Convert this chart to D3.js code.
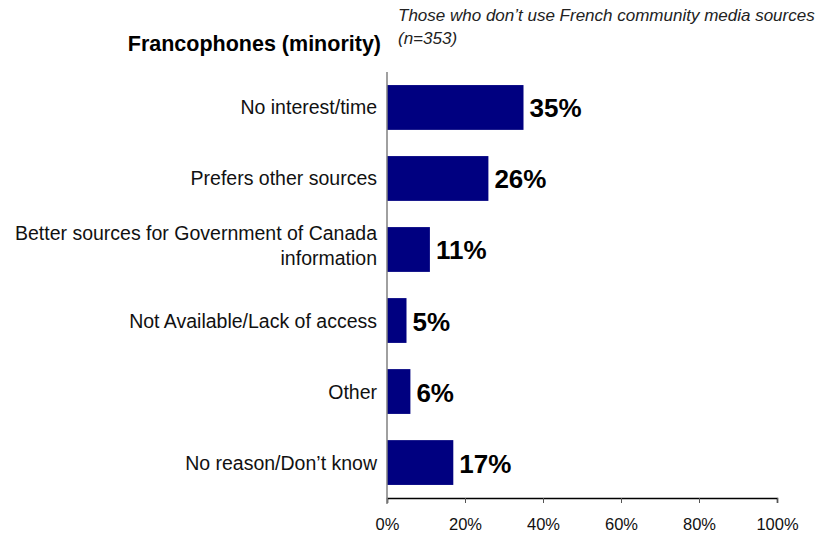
<!DOCTYPE html>
<html>
<head>
<meta charset="utf-8">
<script src="https://cdn.jsdelivr.net/npm/d3@7"></script>
<style>
  body { margin: 0; background: #fff; }
  text { font-family: Arial, "Liberation Sans", sans-serif; }
</style>
</head>
<body>
<div id="chart"></div>
<script>
// data
let categories = [
  "No interest/time",
  "Prefers other sources",
  "Better sources for Government of Canada\ninformation",
  "Not Available/Lack of access",
  "Other",
  "No reason/Don\u2019t know"
];
let values = [35, 26, 11, 5, 6, 17];
let tickValues = [0, 20, 40, 60, 80, 100];

let width = 828;
let height = 535;

let svg = d3.select("#chart")
            .append("svg")
            .attr("width", width)
            .attr("height", height);

let xScale = d3.scaleLinear()
               .domain([0, 100])
               .range([387, 777]);

let yScale = d3.scaleBand()
               .domain(categories)
               .range([72, 498])
               .paddingInner(0.369)
               .paddingOuter(0.184);

// titles
svg.append("text")
   .attr("x", 381)
   .attr("y", 51)
   .attr("text-anchor", "end")
   .style("font-size", "21.5px")
   .style("font-weight", "bold")
   .text("Francophones (minority)");

svg.append("text")
   .attr("x", 398)
   .attr("y", 21)
   .style("font-size", "17px")
   .style("font-style", "italic")
   .style("fill", "#222")
   .text("Those who don\u2019t use French community media sources");

svg.append("text")
   .attr("x", 398)
   .attr("y", 44)
   .style("font-size", "17px")
   .style("font-style", "italic")
   .style("fill", "#222")
   .text("(n=353)");

// x axis
let xAxis = d3.axisBottom(xScale)
              .tickValues(tickValues)
              .tickSize(5)
              .tickPadding(15)
              .tickFormat(d => d + "%");

let gx = svg.append("g")
            .attr("transform", `translate(0, ${498})`)
            .call(xAxis);
gx.select(".domain").attr("stroke", "#000").attr("stroke-width", 1.5);
gx.selectAll(".tick line").attr("stroke", "#555");
gx.selectAll(".tick text")
  .style("font-size", "16.5px")
  .style("font-family", "Arial, 'Liberation Sans', sans-serif")
  .attr("fill", "#111");

// bars
svg.selectAll("rect.bar")
   .data(values)
   .enter()
   .append("rect")
   .attr("class", "bar")
   .attr("x", xScale(0))
   .attr("y", (d, i) => yScale(categories[i]))
   .attr("width", d => xScale(d) - xScale(0))
   .attr("height", yScale.bandwidth())
   .attr("fill", "#000080");

// y axis line (grey)
svg.append("line")
   .attr("x1", xScale(0))
   .attr("x2", xScale(0))
   .attr("y1", 72)
   .attr("y2", 504)
   .attr("stroke", "#808080")
   .attr("stroke-width", 1.5);

// value labels
svg.selectAll("text.value")
   .data(values)
   .enter()
   .append("text")
   .attr("class", "value")
   .attr("x", d => xScale(d) + 6)
   .attr("y", (d, i) => yScale(categories[i]) + yScale.bandwidth() / 2 + 10)
   .style("font-size", "26px")
   .style("font-weight", "bold")
   .text(d => d + "%");

// category labels
svg.selectAll("text.cat")
   .data(categories)
   .enter()
   .append("text")
   .attr("class", "cat")
   .attr("text-anchor", "end")
   .style("font-size", "19.5px")
   .style("fill", "#111")
   .each(function(d) {
     let lines = d.split("\n");
     let mid = yScale(d) + yScale.bandwidth() / 2;
     let first = lines.length > 1 ? mid - 9 : mid + 7;
     lines.forEach((line, j) => {
       d3.select(this).append("tspan")
         .attr("x", 377)
         .attr("y", first + j * 25)
         .text(line);
     });
   });
</script>
</body>
</html>
